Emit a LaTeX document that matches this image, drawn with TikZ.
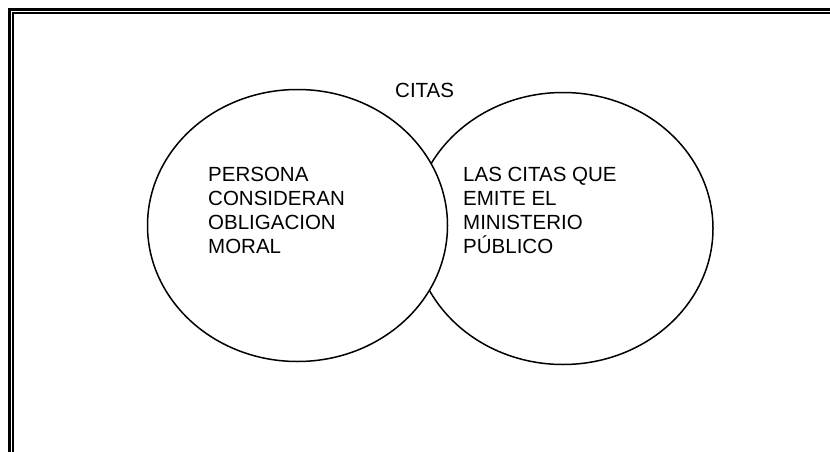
\documentclass[tikz,border=0pt]{standalone}
\usepackage{fontspec}
\setmainfont{Liberation Sans}
\usetikzlibrary{shapes.geometric}
\begin{document}
\begin{tikzpicture}[x=1pt,y=-1pt,
  venn/.style={ellipse,draw=black,line width=1.5pt,minimum width=300pt,minimum height=272pt,inner sep=0pt},
  lbl/.style={font=\fontsize{20.5pt}{24pt}\selectfont,inner sep=0pt,align=left}]
\useasboundingbox (0,0) rectangle (830,452);
\fill[white] (0,0) rectangle (830,452);
% double frame
\draw[line width=3pt] (9.5,460) -- (9.5,9.5) -- (840,9.5);
\draw[line width=1.6pt] (13,460) -- (13,13) -- (840,13);
% circles
\node[venn] (right) at (563,228.5) {};
\node[venn,fill=white] (left) at (297.5,225.5) {};
% texts
\node[lbl,anchor=base west] (title) at (395,97) {CITAS};
\node[lbl,anchor=north west] (ltext) at (208,167) {PERSONA\\CONSIDERAN\\OBLIGACION\\MORAL};
\node[lbl,anchor=north west] (rtext) at (463,167) {LAS CITAS QUE\\EMITE EL\\MINISTERIO\\PÚBLICO};
\end{tikzpicture}
\end{document}
